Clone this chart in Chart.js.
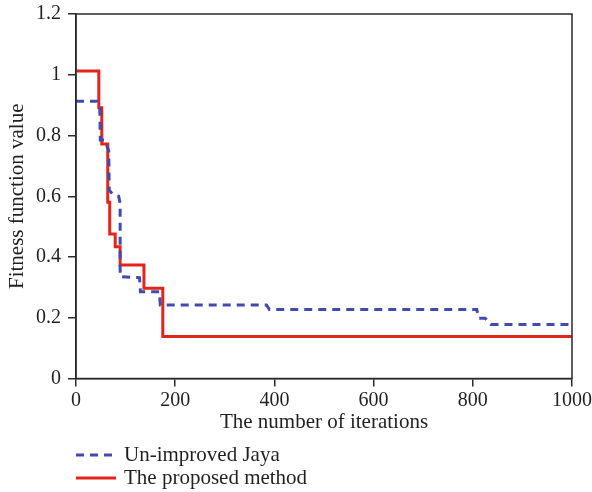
<!DOCTYPE html>
<html>
<head>
<meta charset="utf-8">
<script src="https://cdn.jsdelivr.net/npm/chart.js@4/dist/chart.umd.min.js"></script>
<style>
  html, body { margin: 0; padding: 0; background: #ffffff; }
  #wrap { width: 592px; height: 492px; position: relative; }
</style>
</head>
<body>
<div id="wrap"><canvas id="c" width="592" height="492"></canvas></div>
<script>
// ---- Data ----
const seriesNames = ["Un-improved Jaya", "The proposed method"];

// Un-improved Jaya (dashed blue): corner points of the curve
const jayaIter = [0, 42, 48, 49, 58, 66, 67, 75, 86, 89, 89, 128, 130, 168, 170, 384, 390, 808, 812, 825, 836, 1000];
const jayaVals = [0.913, 0.913, 0.89, 0.785, 0.785, 0.75, 0.62, 0.605, 0.60, 0.577, 0.335, 0.332, 0.286, 0.286, 0.242, 0.242, 0.227, 0.227, 0.198, 0.198, 0.178, 0.178];

// The proposed method (solid red): step change points
const propIter = [0, 46, 52, 64, 68, 79, 89, 137, 175, 1000];
const propVals = [1.012, 0.891, 0.772, 0.58, 0.476, 0.434, 0.374, 0.297, 0.138, 0.138];

const xTicks = [0, 200, 400, 600, 800, 1000];
const yTicks = [0, 0.2, 0.4, 0.6, 0.8, 1, 1.2];
const xTitle = "The number of iterations";
const yTitle = "Fitness function value";

// ---- Styling ----
const FONT = "'Liberation Serif', 'Times New Roman', serif";
const INK = "#231f20";
const AXIS = "#2b2b2b";
const BLUE = "#3f4bb0";
const RED = "#e2241b";

const toXY = (xs, ys) => xs.map((x, i) => ({ x: x, y: ys[i] }));

const framePlugin = {
  id: 'frame',
  afterDatasetsDraw(chart) {
    const { ctx, chartArea: a } = chart;
    ctx.save();
    ctx.strokeStyle = AXIS;
    ctx.lineWidth = 1.5;
    ctx.strokeRect(a.left, a.top, a.right - a.left, a.bottom - a.top);
    ctx.restore();
  }
};

const legendPlugin = {
  id: 'stackLegend',
  afterDraw(chart) {
    const { ctx } = chart;
    const rows = [455, 478];
    ctx.save();
    chart.data.datasets.forEach((ds, i) => {
      const y = rows[i];
      ctx.beginPath();
      ctx.strokeStyle = ds.borderColor;
      ctx.lineWidth = 3;
      ctx.setLineDash(ds.borderDash || []);
      ctx.moveTo(76, y);
      ctx.lineTo(116, y);
      ctx.stroke();
      ctx.setLineDash([]);
      ctx.fillStyle = INK;
      ctx.font = "21px " + FONT;
      ctx.textAlign = 'left';
      ctx.textBaseline = 'middle';
      ctx.fillText(ds.label, 124, y);
    });
    ctx.restore();
  }
};

new Chart(document.getElementById('c'), {
  type: 'line',
  data: {
    datasets: [
      {
        label: seriesNames[0],
        data: toXY(jayaIter, jayaVals),
        borderColor: BLUE,
        borderWidth: 3,
        borderDash: [8, 6],
        pointRadius: 0,
        fill: false,
        tension: 0
      },
      {
        label: seriesNames[1],
        data: toXY(propIter, propVals),
        borderColor: RED,
        borderWidth: 3,
        stepped: 'before',
        pointRadius: 0,
        fill: false
      }
    ]
  },
  options: {
    responsive: false,
    animation: false,
    layout: { padding: { left: 0, right: 20, top: 14, bottom: 53.5 } },
    plugins: {
      legend: { display: false },
      tooltip: { enabled: false }
    },
    scales: {
      x: {
        type: 'linear',
        min: 0, max: 1000,
        afterBuildTicks: (s) => { s.ticks = xTicks.map(v => ({ value: v })); },
        afterFit: (s) => { s.height = 60; s.paddingLeft = 0; s.paddingRight = 0; },
        grid: { drawOnChartArea: false, drawTicks: true, tickLength: 8, color: AXIS, lineWidth: 1.5 },
        border: { display: true, color: AXIS, width: 1.5 },
        ticks: {
          color: INK, padding: 2,
          font: { family: FONT, size: 20 },
          maxRotation: 0,
          callback: (v) => String(v)
        },
        title: {
          display: true, text: xTitle, color: INK,
          font: { family: FONT, size: 21 },
          padding: { top: 0, bottom: 3 }
        }
      },
      y: {
        type: 'linear',
        min: 0, max: 1.2,
        afterBuildTicks: (s) => { s.ticks = yTicks.map(v => ({ value: v })); },
        afterFit: (s) => { s.width = 76; s.paddingTop = 0; s.paddingBottom = 0; },
        grid: { drawOnChartArea: false, drawTicks: true, tickLength: 8, color: AXIS, lineWidth: 1.5 },
        border: { display: true, color: AXIS, width: 1.5 },
        ticks: {
          color: INK, padding: 7,
          font: { family: FONT, size: 20 },
          callback: (v) => String(Math.round(v * 10) / 10)
        },
        title: {
          display: true, text: yTitle, color: INK,
          font: { family: FONT, size: 21 },
          padding: { top: 5, bottom: 0 }
        }
      }
    }
  },
  plugins: [framePlugin, legendPlugin]
});
</script>
</body>
</html>
